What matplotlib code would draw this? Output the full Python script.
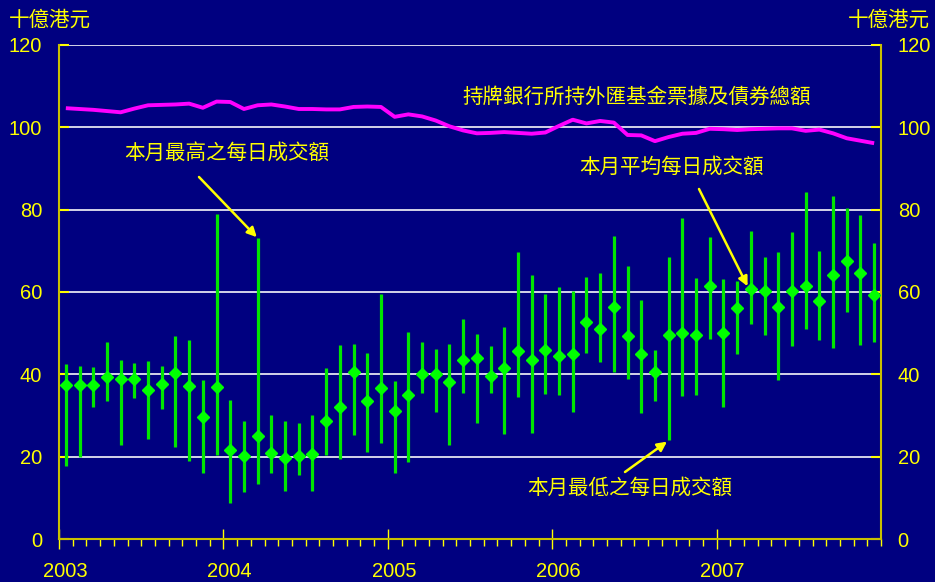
import numpy as np
import matplotlib
matplotlib.use('Agg')
import matplotlib.pyplot as plt
import matplotlib.transforms as mtransforms
from matplotlib.ticker import MultipleLocator

# monthly figures, Jan 2003 - Dec 2007 (HK$ billion)
avg_daily = [37.5, 37.4, 37.5, 39.4, 38.8, 38.9, 36.2, 37.8, 40.3, 37.2, 29.6, 37.0,
             21.7, 20.3, 25.0, 20.9, 19.8, 20.1, 20.6, 28.6, 32.2, 40.7, 33.5, 36.7,
             31.1, 35.1, 40.2, 40.2, 38.2, 43.6, 43.9, 39.5, 41.6, 45.8, 43.6, 46.0,
             44.4, 44.9, 52.7, 51.0, 56.3, 49.3, 44.9, 40.6, 49.6, 50.0, 49.6, 61.5,
             50.0, 56.0, 60.8, 60.2, 56.4, 60.2, 61.5, 57.7, 64.1, 67.4, 64.7, 59.3]
max_daily = [42.5, 42.1, 41.7, 47.9, 43.4, 42.8, 43.2, 42.0, 49.3, 48.4, 38.7, 78.9,
             33.8, 28.7, 73.0, 30.1, 28.8, 28.2, 30.1, 41.6, 47.2, 47.5, 45.1, 59.4,
             38.5, 50.2, 47.8, 46.2, 47.5, 53.5, 49.9, 46.8, 51.5, 69.7, 64.1, 59.6,
             61.3, 60.2, 63.6, 64.5, 73.7, 66.4, 58.1, 46.0, 68.4, 78.0, 63.4, 73.4,
             63.1, 62.6, 74.7, 68.5, 69.7, 74.5, 84.2, 69.9, 83.2, 80.3, 78.8, 72.0]
min_daily = [17.7, 19.9, 32.1, 33.5, 22.8, 34.4, 24.3, 31.7, 22.5, 19.1, 16.0, 20.5,
             8.7, 11.5, 13.5, 16.0, 11.7, 15.5, 11.8, 20.5, 19.4, 25.2, 21.1, 23.3,
             16.0, 18.7, 35.5, 30.9, 22.8, 35.6, 28.3, 35.6, 25.6, 34.5, 25.7, 35.2,
             35.1, 31.0, 45.1, 43.1, 40.5, 38.9, 30.6, 33.6, 24.2, 34.8, 35.1, 48.5,
             32.2, 45.0, 52.3, 49.6, 38.7, 46.8, 51.1, 48.3, 46.4, 55.2, 47.1, 47.9]
efbn_total = [104.6, 104.4, 104.2, 103.9, 103.6, 104.5, 105.3, 105.4, 105.5, 105.7, 104.7, 106.2,
              106.1, 104.4, 105.3, 105.5, 105.0, 104.4, 104.4, 104.3, 104.3, 104.9, 105.0, 104.9,
              102.5, 103.1, 102.6, 101.6, 100.2, 99.2, 98.5, 98.6, 98.8, 98.6, 98.4, 98.7,
              100.3, 101.8, 100.9, 101.5, 101.1, 98.1, 98.0, 96.6, 97.6, 98.4, 98.6, 99.6,
              99.5, 99.3, 99.5, 99.6, 99.7, 99.7, 99.1, 99.4, 98.5, 97.3, 96.7, 96.1]
years = [2003, 2004, 2005, 2006, 2007]

BG = '#000080'
YEL = '#ffff00'
CJK = ['Noto Sans CJK TC', 'DejaVu Sans']

plt.rcParams['font.family'] = ['Liberation Sans', 'DejaVu Sans']

avg = np.array(avg_daily)
hi = np.array(max_daily)
lo = np.array(min_daily)
x = 2003 + (np.arange(len(avg)) + 0.5) / 12.0

fig = plt.figure(figsize=(9.35, 5.82), dpi=100, facecolor=BG)
ax = fig.add_axes([59 / 935, 1 - 539.3 / 582, 822 / 935, 494.6 / 582])
ax.set_facecolor(BG)

ax.set_xlim(2003, 2008)
ax.set_ylim(0, 120)
for v in range(20, 121, 20):
    ax.axhline(v, color='#e4e4f0', lw=1.3, zorder=1)

ax.errorbar(x, avg, yerr=[avg - lo, hi - avg], fmt='none', ecolor='#00e600',
            elinewidth=2.3, capsize=0, zorder=3)
ax.plot(x, avg, 'D', color='#00ff00', ms=6.5, mec='#00ff00', zorder=4)
ax.plot(x, efbn_total, color='#ff00ff', lw=2.8, zorder=3, solid_capstyle='butt')

for s in ['left', 'right', 'bottom']:
    ax.spines[s].set_color('#c8c000')
    ax.spines[s].set_linewidth(1.5)
ax.spines['top'].set_visible(False)

ax.set_xticks(years)
ax.set_xticklabels([str(y) for y in years])
ax.xaxis.set_minor_locator(MultipleLocator(1 / 12))
ax.tick_params(axis='x', which='major', direction='inout', length=14, width=1,
               colors=YEL, labelsize=14.5, pad=9)
ax.tick_params(axis='x', which='minor', direction='out', length=5, width=1, colors=YEL)
offset = mtransforms.ScaledTranslation(6 / 100, 0, fig.dpi_scale_trans)
for lab in ax.get_xticklabels():
    lab.set_transform(lab.get_transform() + offset)

ax.set_yticks(range(0, 121, 20))
ax.tick_params(axis='y', which='major', direction='in', length=7, width=1.5,
               colors=YEL, labelsize=14.5, pad=11.5, left=True, right=True,
               labelleft=True, labelright=True)
ax.tick_params(axis='y', which='major', labelright=True, pad=12)

fig.text(9 / 935, 1 - 20 / 582, '十億港元', color=YEL, fontsize=14.8, family=CJK,
         ha='left', va='center')
fig.text(930 / 935, 1 - 20 / 582, '十億港元', color=YEL, fontsize=14.8, family=CJK,
         ha='right', va='center')


def px2data(px, py):
    return 2003 + (px - 59) / 164.4, (539.3 - py) / 4.1217


arrow = dict(arrowstyle='-|>', color=YEL, lw=1.8, mutation_scale=14, shrinkA=0, shrinkB=0)

ax.text(*px2data(637, 97), '持牌銀行所持外匯基金票據及債券總額', color=YEL, fontsize=14.8,
        family=CJK, ha='center', va='center', zorder=5)

ax.text(*px2data(227, 154), '本月最高之每日成交額', color=YEL, fontsize=14.8,
        family=CJK, ha='center', va='center', zorder=5)
ax.annotate('', xy=(x[14] - 0.005, hi[14] + 0.3), xytext=px2data(199, 177),
            arrowprops=arrow, zorder=5)

ax.text(*px2data(671, 167), '本月平均每日成交額', color=YEL, fontsize=14.8,
        family=CJK, ha='center', va='center', zorder=5)
ax.annotate('', xy=(x[50] - 0.02, avg[50] + 0.6), xytext=px2data(699, 189),
            arrowprops=arrow, zorder=5)

ax.text(*px2data(630, 488), '本月最低之每日成交額', color=YEL, fontsize=14.8,
        family=CJK, ha='center', va='center', zorder=5)
ax.annotate('', xy=(x[44] - 0.01, lo[44] - 0.5), xytext=px2data(625, 472),
            arrowprops=arrow, zorder=5)

fig.savefig('out.png', dpi=100, facecolor=BG)
